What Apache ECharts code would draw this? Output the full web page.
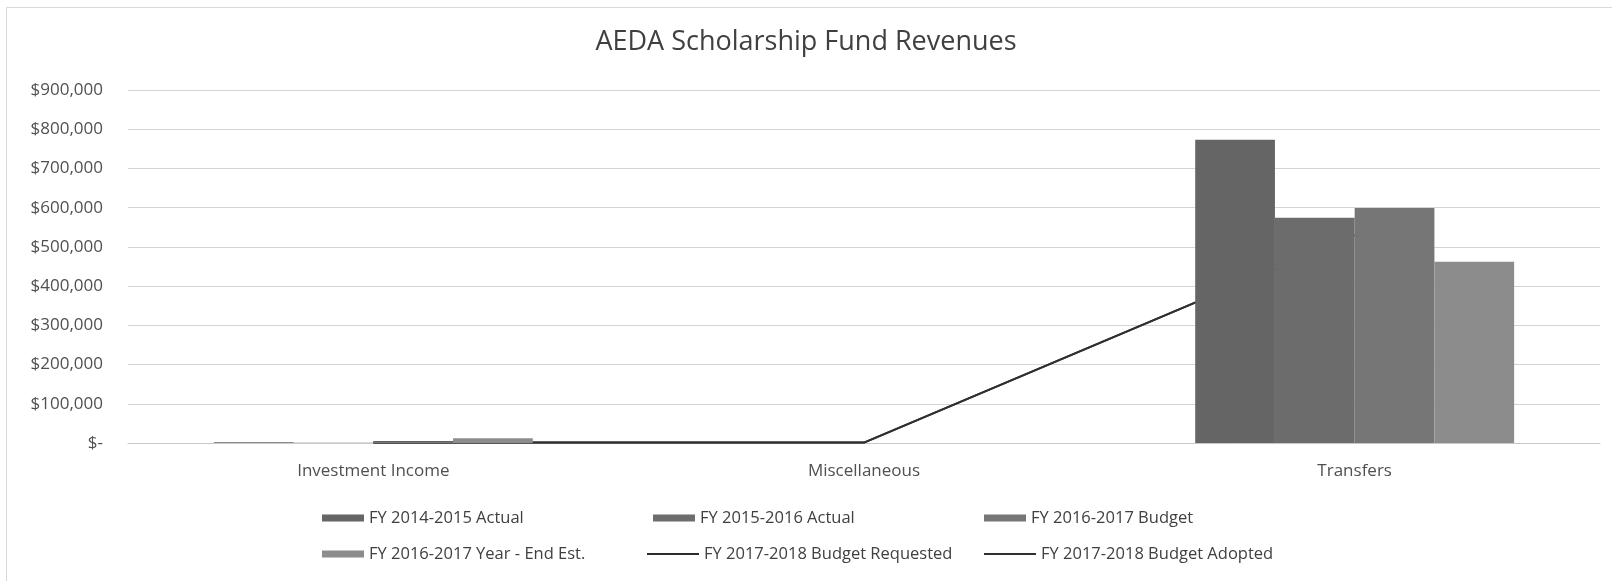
<!DOCTYPE html>
<html>
<head>
<meta charset="utf-8">
<title>AEDA Scholarship Fund Revenues</title>
<script src="https://cdn.jsdelivr.net/npm/echarts@6/dist/echarts.min.js"></script>
<style>
  html, body { margin: 0; padding: 0; background: #ffffff; }
  #chart { width: 1612px; height: 581px; }
</style>
</head>
<body>
<div id="chart"></div>
<script>
// Revenue categories along the x axis
const categories = ['Investment Income', 'Miscellaneous', 'Transfers'];

// Bar series (dollars)
const fy1415Actual = [2000, 0, 773000];
const fy1516Actual = [500, 0, 574000];
const fy1617Budget = [2500, 0, 599000];
const fy1617YearEnd = [12000, 0, 462000];

// Line series (dollars)
const fy1718Requested = [1000, 1000, 530000];
const fy1718Adopted = [1000, 1000, 530000];

// Series names as shown in the legend
const seriesNames = [
  'FY 2014-2015 Actual',
  'FY 2015-2016 Actual',
  'FY 2016-2017 Budget',
  'FY 2016-2017 Year - End Est.',
  'FY 2017-2018 Budget Requested',
  'FY 2017-2018 Budget Adopted'
];

// Value axis range
const yMin = 0;
const yMax = 900000;
const yStep = 100000;

const FONT = '"Open Sans", "Liberation Sans", sans-serif';
const barColors = ['#656565', '#6c6c6c', '#767676', '#8c8c8c'];
const lineColors = ['#2b2b2b', '#303030'];

function money(v) {
  if (v === 0) return '$-';
  return '$' + v.toLocaleString('en-US');
}

const chart = echarts.init(document.getElementById('chart'), null, { renderer: 'canvas' });

function legendItem(name, left, centerY, isLine) {
  return {
    data: [name],
    left: left,
    top: centerY - 10,
    padding: 0,
    icon: 'rect',
    itemWidth: isLine ? 52 : 42,
    itemHeight: isLine ? 2 : 7,
    selectedMode: false,
    textStyle: { fontFamily: FONT, fontSize: 16.5, color: '#404040', lineHeight: 20 }
  };
}

const barData = [fy1415Actual, fy1516Actual, fy1617Budget, fy1617YearEnd];
const lineData = [fy1718Requested, fy1718Adopted];

const series = [];
barData.forEach((d, i) => {
  series.push({
    name: seriesNames[i],
    type: 'bar',
    data: d,
    barGap: '0%',
    barCategoryGap: '35%',
    z: 3,
    itemStyle: { color: barColors[i] }
  });
});
lineData.forEach((d, i) => {
  series.push({
    name: seriesNames[4 + i],
    type: 'line',
    data: d,
    z: 1,
    symbol: 'none',
    lineStyle: { color: lineColors[i], width: 2 },
    itemStyle: { color: lineColors[i] }
  });
});

chart.setOption({
  animation: false,
  backgroundColor: '#ffffff',
  title: {
    text: 'AEDA Scholarship Fund Revenues',
    left: 'center',
    top: 24,
    textStyle: { fontFamily: FONT, fontSize: 27, fontWeight: 'normal', color: '#404040' }
  },
  graphic: [{
    type: 'rect',
    shape: { x: 6.5, y: 7.5, width: 1700, height: 700 },
    style: { fill: 'none', stroke: '#d9d9d9', lineWidth: 1 },
    silent: true
  }],
  legend: [
    legendItem(seriesNames[0], 322, 518, false),
    legendItem(seriesNames[1], 653, 518, false),
    legendItem(seriesNames[2], 984, 518, false),
    legendItem(seriesNames[3], 322, 554, false),
    legendItem(seriesNames[4], 647, 554, true),
    legendItem(seriesNames[5], 984, 554, true)
  ],
  grid: { left: 128, right: 12, top: 90, height: 353, containLabel: false },
  xAxis: {
    type: 'category',
    data: categories,
    axisTick: { show: false },
    axisLine: { show: true, lineStyle: { color: '#c8c8c8', width: 1 } },
    axisLabel: { fontFamily: FONT, fontSize: 17, color: '#505050', margin: 20 }
  },
  yAxis: {
    type: 'value',
    min: yMin,
    max: yMax,
    interval: yStep,
    axisLine: { show: false },
    axisTick: { show: false },
    splitLine: { lineStyle: { color: '#d4d4d4', width: 1 } },
    axisLabel: { fontFamily: FONT, fontSize: 17, color: '#505050', margin: 25, formatter: money }
  },
  series: series
});
</script>
</body>
</html>
